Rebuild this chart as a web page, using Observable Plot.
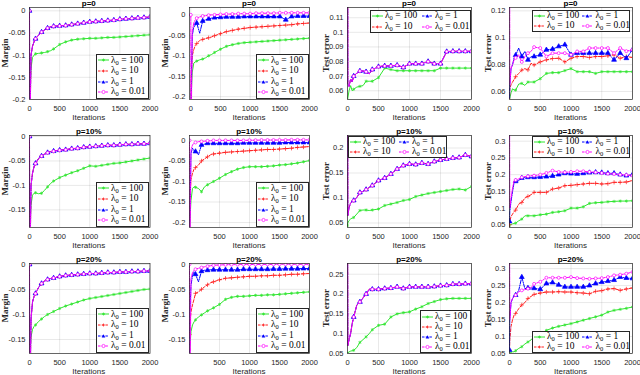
<!DOCTYPE html>
<html><head><meta charset="utf-8">
<script src="https://cdn.jsdelivr.net/npm/d3@7"></script>
<script src="https://cdn.jsdelivr.net/npm/@observablehq/plot@0.6"></script>
<style>
body{margin:0;background:#fff;}
#fig{position:relative;width:640px;height:375px;overflow:hidden;font-family:"Liberation Sans",Arial,sans-serif;color:#262626;}
.abs{position:absolute;white-space:nowrap;line-height:1;}
.title{font-weight:bold;font-size:8px;color:#000;transform:translate(-50%,-50%);}
.xl{font-size:8px;transform:translate(-50%,-50%);}
.yl{font-family:"Liberation Serif",serif;font-weight:bold;font-size:9px;color:#262626;transform:translate(-50%,-50%) rotate(-90deg);}
.leg{position:absolute;background:#fff;border:0.7px solid #262626;box-sizing:border-box;}
.ent{position:absolute;font-family:"Liberation Serif",serif;font-size:9.5px;color:#000;line-height:1;display:flex;align-items:center;white-space:nowrap;height:10px;}
.ent sub{font-size:6.5px;vertical-align:-1.5px;line-height:0;}
</style></head><body><div id="fig"></div><script>
// iteration grid
const X = [0,5,25,50,75,100,150,200,250,300,350,400,500,600,700,800,900,1000,1100,1200,1300,1400,1500,1600,1700,1800,1900,2000];
const LAMBDA = ["100","10","1","0.01"];
const TITLES = ["p=0","p=10%","p=20%"];
const YLABELS = ["Margin","Margin","Test error","Test error"];

// Column 1: margin (lambda 10, 1, 0.01 coincide)
const A0_g  = [-0.3,-0.2,-0.13,-0.105,-0.1,-0.097,-0.096,-0.095,-0.094,-0.092,-0.09,-0.086,-0.076,-0.07,-0.066,-0.064,-0.063,-0.062,-0.062,-0.061,-0.06,-0.06,-0.059,-0.058,-0.057,-0.056,-0.055,-0.054];
const A0_m  = [0,-0.3,-0.1,-0.08,-0.07,-0.063,-0.055,-0.048,-0.043,-0.039,-0.036,-0.035,-0.034,-0.033,-0.031,-0.029,-0.027,-0.025,-0.024,-0.023,-0.022,-0.021,-0.019,-0.018,-0.017,-0.016,-0.015,-0.014];
const A10_g = [-0.3,-0.19,-0.14,-0.12,-0.116,-0.115,-0.117,-0.116,-0.11,-0.103,-0.096,-0.091,-0.084,-0.079,-0.074,-0.07,-0.065,-0.06,-0.061,-0.059,-0.057,-0.055,-0.054,-0.052,-0.05,-0.048,-0.046,-0.044];
const A10_m = [0,-0.3,-0.1,-0.075,-0.062,-0.055,-0.045,-0.04,-0.036,-0.033,-0.031,-0.03,-0.028,-0.027,-0.025,-0.024,-0.022,-0.021,-0.02,-0.019,-0.018,-0.018,-0.017,-0.016,-0.016,-0.015,-0.015,-0.014];
const A20_g = [-0.3,-0.18,-0.145,-0.13,-0.124,-0.121,-0.114,-0.109,-0.104,-0.1,-0.097,-0.094,-0.088,-0.083,-0.079,-0.075,-0.071,-0.068,-0.066,-0.064,-0.062,-0.06,-0.058,-0.056,-0.054,-0.052,-0.05,-0.049];
const A20_m = [0,-0.3,-0.11,-0.075,-0.064,-0.058,-0.046,-0.038,-0.033,-0.03,-0.028,-0.027,-0.024,-0.022,-0.021,-0.02,-0.019,-0.018,-0.018,-0.017,-0.016,-0.016,-0.015,-0.015,-0.014,-0.014,-0.013,-0.013];

// Column 2: margin
const B0_g  = [-0.3,-0.2,-0.14,-0.118,-0.115,-0.113,-0.11,-0.108,-0.105,-0.1,-0.097,-0.092,-0.084,-0.077,-0.073,-0.07,-0.068,-0.067,-0.066,-0.065,-0.064,-0.063,-0.062,-0.061,-0.06,-0.059,-0.058,-0.057];
const B0_r  = [-0.3,-0.15,-0.1,-0.085,-0.075,-0.07,-0.063,-0.06,-0.058,-0.056,-0.054,-0.051,-0.046,-0.041,-0.038,-0.035,-0.033,-0.031,-0.03,-0.029,-0.028,-0.027,-0.026,-0.025,-0.024,-0.022,-0.021,-0.02];
const B0_b  = [-0.3,-0.2,-0.05,-0.03,-0.025,-0.02,-0.045,-0.015,-0.012,-0.01,-0.008,-0.007,-0.006,-0.005,-0.005,-0.005,-0.004,-0.004,-0.004,-0.004,-0.004,-0.004,-0.004,-0.012,-0.004,-0.003,-0.003,-0.003];
const B0_m  = [0,-0.3,-0.04,-0.02,-0.012,-0.008,-0.005,-0.003,-0.002,-0.001,0,0,0.001,0.002,0.002,0.003,0.003,0.003,0.004,0.004,0.004,0.004,0.005,0.005,0.005,0.005,0.005,0.005];
const B10_g = [-0.3,-0.2,-0.146,-0.117,-0.113,-0.114,-0.117,-0.125,-0.113,-0.108,-0.104,-0.1,-0.092,-0.083,-0.076,-0.07,-0.066,-0.064,-0.064,-0.064,-0.063,-0.062,-0.06,-0.059,-0.057,-0.055,-0.052,-0.049];
const B10_r = [-0.3,-0.15,-0.095,-0.08,-0.07,-0.066,-0.06,-0.05,-0.045,-0.04,-0.035,-0.033,-0.031,-0.029,-0.028,-0.027,-0.026,-0.025,-0.024,-0.023,-0.022,-0.022,-0.021,-0.02,-0.019,-0.017,-0.016,-0.015];
const B10_b = [-0.3,-0.2,-0.031,-0.019,-0.025,-0.027,-0.035,-0.011,-0.009,-0.007,-0.007,-0.007,-0.007,-0.007,-0.007,-0.007,-0.006,-0.006,-0.006,-0.006,-0.006,-0.006,-0.006,-0.005,-0.005,-0.005,-0.005,-0.005];
const B10_m = [0,-0.3,-0.023,-0.011,-0.007,-0.005,-0.003,-0.0025,-0.002,-0.001,-0.001,0,0,0,0,0,0,0.0005,0.0005,0.001,0.001,0.001,0.001,0.001,0.0015,0.0015,0.0015,0.0015];
const B20_g = [-0.3,-0.17,-0.134,-0.121,-0.115,-0.111,-0.105,-0.101,-0.097,-0.093,-0.09,-0.087,-0.08,-0.07,-0.066,-0.064,-0.064,-0.063,-0.062,-0.062,-0.061,-0.061,-0.06,-0.059,-0.058,-0.057,-0.056,-0.055];
const B20_r = [-0.14,-0.12,-0.095,-0.081,-0.07,-0.058,-0.055,-0.05,-0.045,-0.041,-0.037,-0.035,-0.031,-0.028,-0.027,-0.026,-0.025,-0.024,-0.024,-0.023,-0.023,-0.022,-0.022,-0.021,-0.02,-0.02,-0.019,-0.0185];
const B20_b = [-0.3,-0.1,-0.042,-0.022,-0.015,-0.02,-0.035,-0.014,-0.012,-0.012,-0.011,-0.011,-0.011,-0.011,-0.011,-0.011,-0.01,-0.01,-0.01,-0.01,-0.01,-0.0095,-0.0095,-0.009,-0.009,-0.009,-0.0086,-0.0086];
const B20_m = [0,-0.3,-0.028,-0.017,-0.012,-0.01,-0.008,-0.0066,-0.005,-0.004,-0.003,-0.002,-0.0015,-0.001,-0.0007,-0.0007,-0.0005,-0.0005,-0.0005,-0.0003,-0.0003,-0.0003,0,0,0,0,0,0];

// Column 3: test error (lambda 10, 1, 0.01 coincide)
const C0_g  = [0.05,0.055,0.06,0.0635,0.06,0.061,0.0625,0.063,0.0635,0.0665,0.0665,0.0665,0.069,0.0755,0.0745,0.0737,0.0737,0.0737,0.0737,0.0737,0.0737,0.0737,0.0755,0.0755,0.0755,0.0755,0.0755,0.0755];
const C0_m  = [0.3,0.065,0.063,0.068,0.066,0.07,0.072,0.0735,0.0735,0.073,0.0715,0.0745,0.0765,0.077,0.077,0.0775,0.076,0.0785,0.0785,0.0785,0.08,0.0785,0.0785,0.0868,0.087,0.087,0.087,0.087];
const C10_g = [0.045,0.05,0.055,0.058,0.06,0.061,0.068,0.075,0.076,0.076,0.075,0.076,0.078,0.085,0.088,0.091,0.095,0.097,0.103,0.106,0.109,0.111,0.113,0.115,0.117,0.118,0.116,0.123];
const C10_m = [0.4,0.065,0.081,0.09,0.093,0.095,0.101,0.111,0.113,0.117,0.121,0.125,0.135,0.14,0.148,0.158,0.165,0.168,0.167,0.17,0.168,0.173,0.176,0.178,0.18,0.181,0.186,0.183];
const C20_g = [0.05,0.052,0.054,0.056,0.057,0.058,0.065,0.078,0.085,0.092,0.1,0.11,0.121,0.124,0.142,0.15,0.153,0.155,0.162,0.168,0.176,0.181,0.186,0.188,0.189,0.189,0.189,0.189];
const C20_m = [0.5,0.07,0.085,0.1,0.125,0.142,0.172,0.18,0.19,0.2,0.212,0.212,0.212,0.214,0.215,0.218,0.214,0.218,0.218,0.218,0.218,0.219,0.221,0.222,0.225,0.225,0.226,0.226];

// Column 4: test error
const D0_g  = [0.05,0.055,0.059,0.062,0.061,0.061,0.0655,0.066,0.0645,0.067,0.067,0.067,0.0695,0.0734,0.074,0.074,0.0755,0.077,0.0747,0.0747,0.0747,0.0734,0.0747,0.0747,0.0747,0.0747,0.0747,0.0747];
const D0_r  = [0.05,0.062,0.065,0.067,0.069,0.071,0.0734,0.0759,0.077,0.076,0.081,0.0797,0.082,0.0835,0.0845,0.0847,0.082,0.0847,0.086,0.086,0.0853,0.086,0.086,0.0865,0.0873,0.0847,0.086,0.0853];
const D0_b  = [0.05,0.065,0.077,0.08,0.085,0.087,0.0923,0.086,0.0898,0.0835,0.086,0.086,0.0873,0.091,0.0915,0.0935,0.0948,0.0873,0.0885,0.0885,0.0885,0.0885,0.0885,0.0885,0.0835,0.0885,0.0847,0.091];
const D0_m  = [0.3,0.065,0.077,0.08,0.0835,0.085,0.0873,0.082,0.086,0.0885,0.0898,0.093,0.0923,0.086,0.0885,0.0885,0.0885,0.0873,0.0898,0.0898,0.0923,0.0923,0.0923,0.0923,0.0885,0.0923,0.09,0.091];
const D10_g = [0.045,0.05,0.051,0.053,0.054,0.055,0.062,0.067,0.077,0.077,0.077,0.077,0.08,0.082,0.087,0.089,0.092,0.1,0.1,0.104,0.114,0.116,0.117,0.119,0.12,0.121,0.121,0.122];
const D10_r = [0.05,0.06,0.075,0.082,0.09,0.094,0.112,0.117,0.13,0.135,0.14,0.147,0.147,0.147,0.157,0.16,0.167,0.168,0.17,0.172,0.174,0.174,0.172,0.173,0.177,0.177,0.178,0.182];
const D10_b = [0.06,0.09,0.12,0.15,0.177,0.18,0.182,0.19,0.192,0.192,0.192,0.192,0.193,0.194,0.196,0.2,0.204,0.203,0.202,0.204,0.206,0.207,0.206,0.204,0.204,0.2,0.197,0.2];
const D10_m = [0.5,0.1,0.13,0.16,0.182,0.184,0.187,0.192,0.194,0.195,0.197,0.197,0.2,0.205,0.212,0.208,0.207,0.208,0.21,0.21,0.208,0.207,0.205,0.203,0.202,0.2,0.199,0.197];
const D20_g = [0.05,0.051,0.053,0.055,0.055,0.058,0.065,0.07,0.078,0.084,0.09,0.1,0.108,0.118,0.125,0.13,0.134,0.138,0.143,0.148,0.153,0.158,0.163,0.172,0.177,0.18,0.183,0.187];
const D20_r = [0.06,0.09,0.13,0.15,0.163,0.168,0.182,0.193,0.2,0.212,0.218,0.224,0.228,0.231,0.231,0.232,0.231,0.231,0.229,0.228,0.226,0.233,0.235,0.24,0.241,0.236,0.24,0.243];
const D20_b = [0.06,0.15,0.2,0.212,0.218,0.222,0.236,0.275,0.241,0.243,0.243,0.242,0.239,0.256,0.259,0.252,0.246,0.246,0.246,0.246,0.25,0.256,0.26,0.263,0.266,0.275,0.272,0.271];
const D20_m = [0.5,0.15,0.2,0.212,0.218,0.222,0.232,0.236,0.238,0.241,0.243,0.255,0.261,0.273,0.273,0.273,0.273,0.275,0.272,0.271,0.27,0.271,0.272,0.275,0.28,0.282,0.285,0.29];

// tick labels
const XT_FULL = [0,500,1000,1500,2000];
const XT_NO0 = [500,1000,1500,2000];
const YT_M20 = [-0.2,-0.15,-0.1,-0.05,0];
const YT_M15 = [-0.15,-0.1,-0.05,0];
const YT_C0 = [0.06,0.07,0.08,0.09,0.1,0.11];
const YT_C10 = [0.05,0.1,0.15,0.2];
const YT_C20 = [0.05,0.1,0.15,0.2,0.25];
const YT_D0 = [0.06,0.08,0.1,0.12];
const YT_D = [0.05,0.1,0.15,0.2,0.25,0.3];

// ---------- configuration ----------
const SERIES = [
  {color:"#2fe52f", dash:null, symbol:"asterisk"},
  {color:"#ff1f1f", dash:"3,1.6", symbol:"plus"},
  {color:"#0000ff", dash:"3.5,1.2,1,1.2", symbol:"triangle"},
  {color:"#ff00ff", dash:"3.5,1.2,1,1.2", symbol:"circle"}
];
const COLX = [[28.5,149],[189,309],[347,471],[509,632]];
const ROWY = [[7,99],[135,227],[263,353]];
const YLABX = [5,165,326,488];

const panels = [
  {r:0,c:0, s:[A0_g,A0_m,A0_m,A0_m], xd:[0,2000], xt:XT_FULL, yd:[-0.2,0.0075], yt:YT_M20, leg:{type:"one"}},
  {r:0,c:1, s:[B0_g,B0_r,B0_b,B0_m], xd:[-22,2000], xt:XT_FULL, yd:[-0.207,0.018], yt:YT_M20, leg:{type:"one"}},
  {r:0,c:2, s:[C0_g,C0_m,C0_m,C0_m], xd:[0,2000], xt:XT_FULL, yd:[0.054,0.117], yt:YT_C0, leg:{type:"two",left:370,top:10,w:101,h:23}},
  {r:0,c:3, s:[D0_g,D0_r,D0_b,D0_m], xd:[0,2000], xt:XT_FULL, yd:[0.054,0.1225], yt:YT_D0, leg:{type:"two",left:532,top:10,w:98,h:22}},
  {r:1,c:0, s:[A10_g,A10_m,A10_m,A10_m], xd:[0,2000], xt:XT_FULL, yd:[-0.186,0.002], yt:YT_M15, leg:{type:"one"}},
  {r:1,c:1, s:[B10_g,B10_r,B10_b,B10_m], xd:[0,2000], xt:XT_NO0, yd:[-0.212,0.012], yt:YT_M20, leg:{type:"one"}},
  {r:1,c:2, s:[C10_g,C10_m,C10_m,C10_m], xd:[0,2000], xt:XT_FULL, yd:[0.041,0.225], yt:YT_C10, leg:{type:"two",left:348,top:136,w:99,h:22}},
  {r:1,c:3, s:[D10_g,D10_r,D10_b,D10_m], xd:[0,2000], xt:XT_FULL, yd:[0.042,0.317], yt:YT_D, leg:{type:"two",left:532,top:136,w:98,h:22}},
  {r:2,c:0, s:[A20_g,A20_m,A20_m,A20_m], xd:[0,2000], xt:XT_FULL, yd:[-0.178,0.002], yt:YT_M15, leg:{type:"one"}},
  {r:2,c:1, s:[B20_g,B20_r,B20_b,B20_m], xd:[0,2000], xt:XT_NO0, yd:[-0.178,0.0015], yt:YT_M15, leg:{type:"one"}},
  {r:2,c:2, s:[C20_g,C20_m,C20_m,C20_m], xd:[0,2000], xt:XT_FULL, yd:[0.05,0.277], yt:YT_C20, leg:{type:"one",left:420,top:310,w:51,h:43}},
  {r:2,c:3, s:[D20_g,D20_r,D20_b,D20_m], xd:[0,2000], xt:XT_FULL, yd:[0.05,0.315], yt:YT_D, leg:{type:"two",left:532,top:331,w:98,h:22}}
];

const fig = document.getElementById("fig");
const ML = 34, MR = 4, MT = 4, MB = 16;

function addText(cls, txt, x, y) {
  const d = document.createElement("div");
  d.className = "abs " + cls;
  d.textContent = txt;
  d.style.left = x + "px"; d.style.top = y + "px";
  fig.appendChild(d);
}

function sampleSVG(st) {
  const ns = "http://www.w3.org/2000/svg";
  const svg = document.createElementNS(ns, "svg");
  svg.setAttribute("width", 11); svg.setAttribute("height", 8);
  svg.style.overflow = "visible";
  const ln = document.createElementNS(ns, "line");
  ln.setAttribute("x1", 0); ln.setAttribute("x2", 11); ln.setAttribute("y1", 4); ln.setAttribute("y2", 4);
  ln.setAttribute("stroke", st.color); ln.setAttribute("stroke-width", 1);
  if (st.dash) ln.setAttribute("stroke-dasharray", "2.5,1.2");
  svg.appendChild(ln);
  let m;
  if (st.symbol === "asterisk") {
    m = document.createElementNS(ns, "path");
    m.setAttribute("d", "M4,4H7M5.5,2.5V5.5M4.4,2.9L6.6,5.1M6.6,2.9L4.4,5.1");
    m.setAttribute("stroke", st.color); m.setAttribute("stroke-width", 0.7); m.setAttribute("fill", "none");
  } else if (st.symbol === "plus") {
    m = document.createElementNS(ns, "path");
    m.setAttribute("d", "M4,4H7M5.5,2.5V5.5");
    m.setAttribute("stroke", st.color); m.setAttribute("stroke-width", 0.7); m.setAttribute("fill", "none");
  } else if (st.symbol === "triangle") {
    m = document.createElementNS(ns, "path");
    m.setAttribute("d", "M5.5,2.2L7.3,5.4H3.7Z");
    m.setAttribute("fill", st.color);
  } else {
    m = document.createElementNS(ns, "circle");
    m.setAttribute("cx", 5.5); m.setAttribute("cy", 4); m.setAttribute("r", 1.6);
    m.setAttribute("stroke", st.color); m.setAttribute("stroke-width", 0.7); m.setAttribute("fill", "#fff");
  }
  svg.appendChild(m);
  return svg;
}

function addEntry(i, x, yc) {
  const e = document.createElement("div");
  e.className = "ent";
  e.style.left = x + "px"; e.style.top = (yc - 5) + "px";
  e.appendChild(sampleSVG(SERIES[i]));
  const t = document.createElement("span");
  t.style.marginLeft = "2px";
  t.innerHTML = "λ<sub>0</sub> = " + LAMBDA[i];
  e.appendChild(t);
  fig.appendChild(e);
}

function addLegend(p, fl, ft, fr, fb) {
  let L = p.leg;
  let left = L.left, top = L.top, w = L.w, h = L.h;
  if (left === undefined) { w = 53; h = 45.5; left = fr - w; top = fb - h; }
  const box = document.createElement("div");
  box.className = "leg";
  box.style.left = left + "px"; box.style.top = top + "px";
  box.style.width = w + "px"; box.style.height = h + "px";
  fig.appendChild(box);
  if (L.type === "one") {
    const rh = (h - 3) / 4;
    for (let i = 0; i < 4; i++) addEntry(i, left + 2, top + 1.5 + rh * (i + 0.5));
  } else {
    const rows = [top + h * 0.27, top + h * 0.73];
    const cols = [left + 2, left + w * 0.515];
    addEntry(0, cols[0], rows[0]); addEntry(1, cols[0], rows[1]);
    addEntry(2, cols[1], rows[0]); addEntry(3, cols[1], rows[1]);
  }
}

for (const p of panels) {
  const [fl, fr] = COLX[p.c], [ft, fb] = ROWY[p.r];
  const fw = fr - fl, fh = fb - ft;
  const marks = [
    Plot.gridX(p.xt, {stroke: "#262626", strokeOpacity: 0.15, strokeWidth: 0.7}),
    Plot.gridY(p.yt, {stroke: "#262626", strokeOpacity: 0.15, strokeWidth: 0.7})
  ];
  p.s.forEach((arr, k) => {
    const st = SERIES[k];
    const data = X.map((x, i) => ({x, y: arr[i]}));
    marks.push(Plot.line(data, {x: "x", y: "y", stroke: st.color, strokeWidth: 1, strokeDasharray: st.dash || undefined, clip: true}));
    const md = data.filter(d => d.x % 100 === 0);
    marks.push(Plot.dot(md, {x: "x", y: "y", symbol: st.symbol, r: st.symbol === "triangle" ? 1.8 : 1.5,
      stroke: st.color, strokeWidth: 0.7, fill: st.symbol === "triangle" ? st.color : (st.symbol === "circle" ? "#fff" : "none"), clip: true}));
  });
  marks.push(Plot.frame({stroke: "#262626", strokeWidth: 0.7}));
  marks.push(Plot.axisX(p.xt, {tickSize: 0, tickPadding: 6, tickFormat: d => String(d), label: null, fill: "#262626"}));
  marks.push(Plot.axisY(p.yt, {tickSize: 0, tickPadding: 4, tickFormat: d => String(d), label: null, fill: "#262626"}));
  const svg = Plot.plot({
    width: fw + ML + MR, height: fh + MT + MB,
    marginLeft: ML, marginRight: MR, marginTop: MT, marginBottom: MB,
    style: {fontFamily: "'Liberation Sans', Arial, sans-serif", fontSize: "7.5px", background: "transparent", overflow: "visible"},
    x: {domain: p.xd},
    y: {domain: p.yd},
    marks
  });
  svg.style.position = "absolute";
  svg.style.left = (fl - ML) + "px";
  svg.style.top = (ft - MT) + "px";
  fig.appendChild(svg);
  addLegend(p, fl, ft, fr, fb);
  addText("title", TITLES[p.r], (fl + fr) / 2, ft - 3);
  addText("xl", "Iterations", (fl + fr) / 2, fb + 18.5);
  addText("yl", YLABELS[p.c], YLABX[p.c], (ft + fb) / 2);
}
</script></body></html>
